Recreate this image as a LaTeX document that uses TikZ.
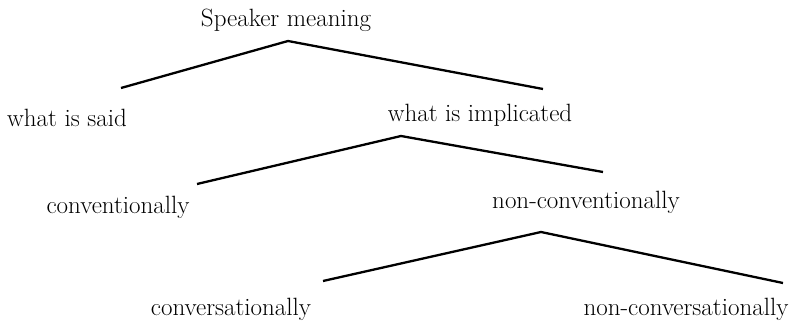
\documentclass[tikz,border=0pt]{standalone}
\usepackage{tikz}
\usetikzlibrary{positioning}

\begin{document}
\begin{tikzpicture}[x=1pt,y=-1pt,line width=2.3pt,
    every node/.style={inner sep=0pt,anchor=base,font=\fontsize{25}{28}\selectfont}]
    \useasboundingbox (0,0) rectangle (800,323);
    \node (S) at (286,27) {Speaker meaning};
    \node (W) at (67,127) {what is said};
    \node (I) at (480,122) {what is implicated};
    \node (C) at (118,214) {conventionally};
    \node (N) at (586,208) {non-conventionally};
    \node (V) at (231,315) {conversationally};
    \node (X) at (686,315) {non-conversationally};
    % branch points and line ends
    \coordinate (S1) at (288,41);
    \coordinate (SW) at (121,88);
    \coordinate (SI) at (543,89);
    \coordinate (I1) at (401,136);
    \coordinate (IC) at (197,184);
    \coordinate (IN) at (603,172);
    \coordinate (N1) at (541,232);
    \coordinate (NV) at (323,281);
    \coordinate (NX) at (783,283);
    \draw (SW) -- (S1) -- (SI);
    \draw (IC) -- (I1) -- (IN);
    \draw (NV) -- (N1) -- (NX);
\end{tikzpicture}
\end{document}
